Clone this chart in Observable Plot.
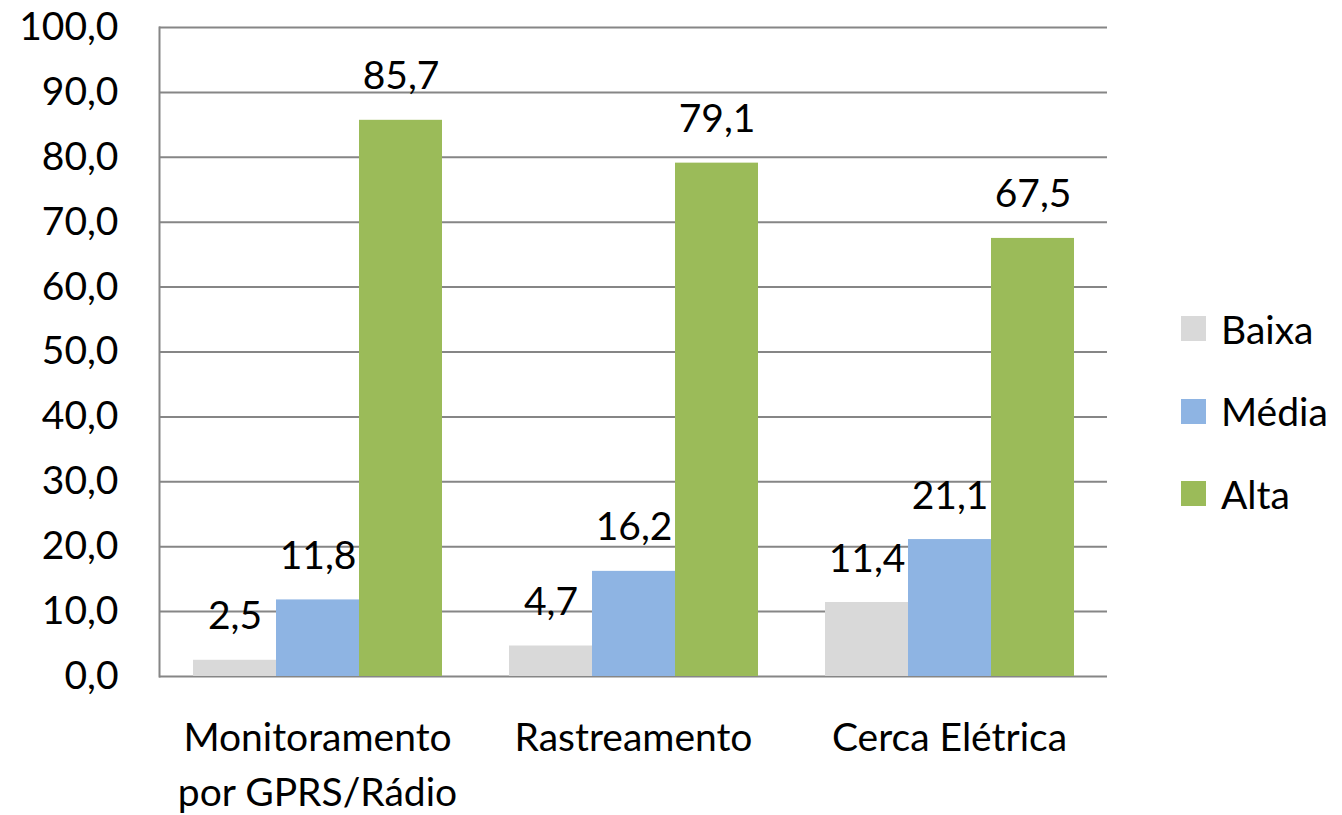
<!DOCTYPE html>
<html><head><meta charset="utf-8">
<script src="https://cdn.jsdelivr.net/npm/d3@7"></script>
<script src="https://cdn.jsdelivr.net/npm/@observablehq/plot@0.6"></script>
<style>
body{margin:0;background:#fff;font-family:Lato,sans-serif;}
#wrap{position:relative;width:1342px;height:815px;overflow:hidden;}
#legend{position:absolute;left:1181px;top:308px;font-size:39px;color:#000;}
#legend .item{display:flex;align-items:center;height:41px;margin-bottom:41.5px;}
#legend .sw{width:25px;height:25px;margin-right:15px;}
</style></head><body>
<div id="wrap"><div id="chart"></div><div id="legend"></div></div>
<script>
const categories = ["Monitoramento\npor GPRS/Rádio", "Rastreamento", "Cerca Elétrica"];
const series = ["Baixa", "Média", "Alta"];
const baixa = [2.5, 4.7, 11.4];
const media = [11.8, 16.2, 21.1];
const alta = [85.7, 79.1, 67.5];
const colors = ["#d9d9d9", "#8eb4e3", "#9bbb59"];
const yTicks = [0, 10, 20, 30, 40, 50, 60, 70, 80, 90, 100];

const valuesBySeries = [baixa, media, alta];
const rows = categories.flatMap((c, i) =>
  series.map((s, j) => ({category: c, series: s, value: valuesBySeries[j][i]})));
const fmt = v => v.toFixed(1).replace(".", ",");

const chart = Plot.plot({
  width: 1342, height: 815,
  marginLeft: 158, marginRight: 235, marginTop: 27, marginBottom: 139,
  style: {fontFamily: "Lato, sans-serif", fontSize: "39px", color: "#000", background: "#fff", overflow: "visible"},
  fx: {domain: categories, padding: 0, label: null},
  x: {domain: series, paddingInner: 0, paddingOuter: 0.383, axis: null},
  y: {domain: [0, 100], label: null},
  color: {domain: series, range: colors},
  marks: [
    Plot.gridY(yTicks, {stroke: "#868686", strokeOpacity: 1, strokeWidth: 2}),
    Plot.frame({anchor: "left", facetAnchor: "left", stroke: "#868686", strokeWidth: 2}),
    Plot.barY(rows, {fx: "category", x: "series", y: "value", fill: "series"}),
    Plot.text(rows, {fx: "category", x: "series", y: "value", text: d => fmt(d.value),
      dy: -31, lineAnchor: "bottom", fontSize: 39, fill: "#000"}),
    Plot.axisY(yTicks, {tickFormat: fmt, tickSize: 0, tickPadding: 41, fontSize: 39, label: null, fill: "#000"}),
    Plot.axisFx({anchor: "bottom", tickSize: 0, tickPadding: 36, fontSize: 39, lineHeight: 1.4, label: null, fill: "#000"})
  ]
});
document.getElementById("chart").appendChild(chart);

const legend = document.getElementById("legend");
series.forEach((s, j) => {
  const item = document.createElement("div");
  item.className = "item";
  const sw = document.createElement("span");
  sw.className = "sw";
  sw.style.background = colors[j];
  const t = document.createElement("span");
  t.textContent = s;
  item.appendChild(sw); item.appendChild(t);
  legend.appendChild(item);
});
</script>
</body></html>
